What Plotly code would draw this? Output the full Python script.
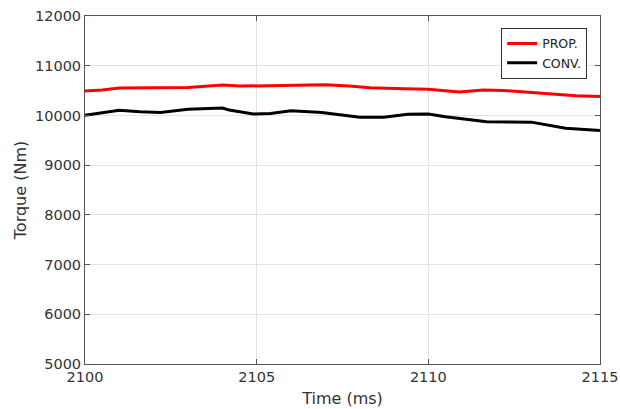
import plotly.graph_objects as go

prop_t = [2100, 2100.5, 2101, 2103, 2103.6, 2104, 2104.5, 2106.3, 2107, 2107.7, 2108.3, 2109.3, 2110, 2110.9, 2111.6, 2112.2, 2113, 2114.3, 2115]
prop_v = [10490, 10510, 10550, 10560, 10590, 10610, 10590, 10600, 10615, 10590, 10555, 10535, 10525, 10470, 10510, 10500, 10460, 10395, 10380]

conv_t = [2100, 2101, 2101.6, 2102.2, 2103, 2104, 2104.2, 2104.9, 2105.4, 2106, 2106.9, 2107.7, 2108, 2108.7, 2109.4, 2110, 2110.5, 2111.7, 2113, 2114, 2115]
conv_v = [10005, 10105, 10075, 10060, 10125, 10150, 10110, 10030, 10040, 10095, 10060, 9995, 9965, 9965, 10025, 10030, 9975, 9875, 9865, 9740, 9695]

fig = go.Figure()
fig.add_trace(go.Scatter(x=prop_t, y=prop_v, mode="lines", name="PROP.",
                         line=dict(color="#ff0000", width=3)))
fig.add_trace(go.Scatter(x=conv_t, y=conv_v, mode="lines", name="CONV.",
                         line=dict(color="#000000", width=3)))

axis_common = dict(showline=True, linecolor="#555555", linewidth=1, mirror="ticks",
                   ticks="inside", ticklen=5, tickcolor="#555555",
                   showgrid=True, gridcolor="#e3e3e3", gridwidth=1, zeroline=False,
                   automargin=False,
                   tickfont=dict(size=14.5, color="#333333"))

fig.update_layout(
    width=620, height=409,
    margin=dict(l=85, r=20, t=16, b=45),
    paper_bgcolor="white", plot_bgcolor="white",
    font=dict(family="DejaVu Sans", color="#333333"),
    xaxis=dict(range=[2100, 2115], tickvals=[2100, 2105, 2110, 2115], tickformat="d",
               title=dict(text="Time (ms)", font=dict(size=16), standoff=8), **axis_common),
    yaxis=dict(range=[5000, 12000], dtick=1000, tickformat="d",
               title=dict(text="Torque (Nm)", font=dict(size=16), standoff=4), **axis_common),
    legend=dict(x=0.975, y=0.966, xanchor="right", yanchor="top",
                bordercolor="#333333", borderwidth=1, bgcolor="white",
                font=dict(size=12.5, color="#222222"), tracegroupgap=0,
                itemwidth=30),
    showlegend=True,
)

fig.write_html("out.html")
